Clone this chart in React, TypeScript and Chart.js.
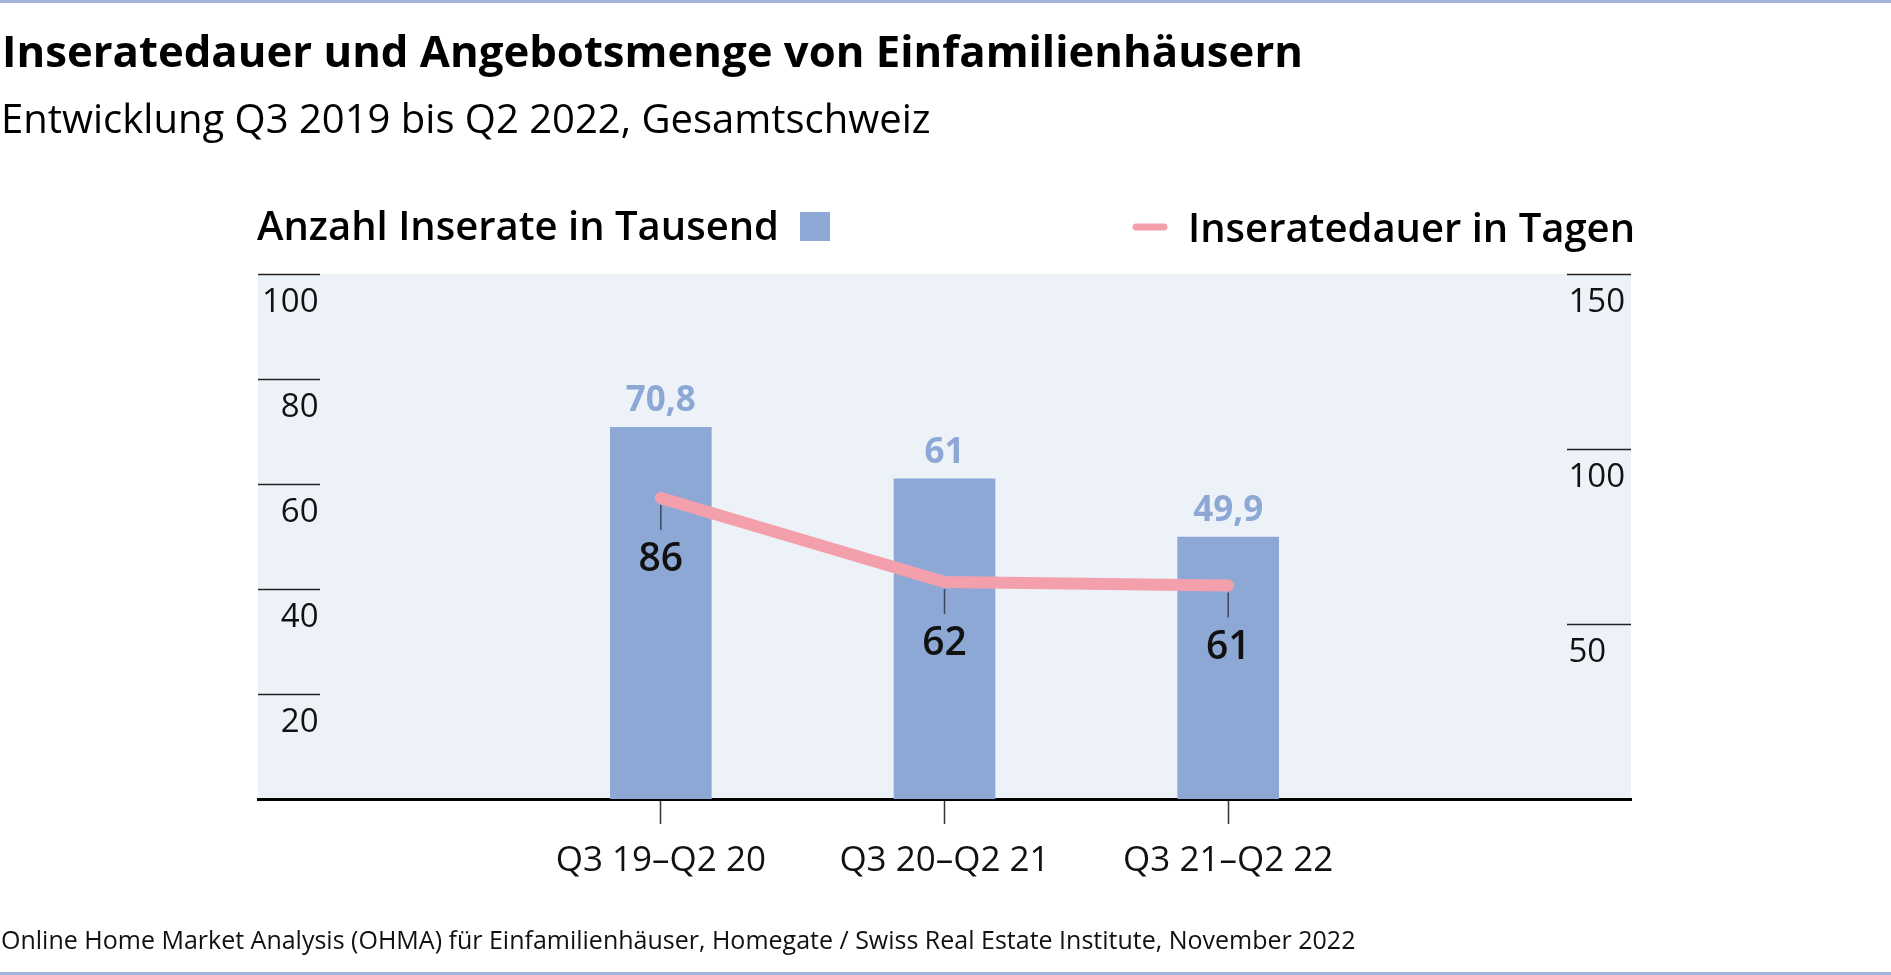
import React, { useEffect, useRef } from 'react';
import { Chart, registerables } from 'chart.js';

Chart.register(...registerables);

const categories = ['Q3 19–Q2 20', 'Q3 20–Q2 21', 'Q3 21–Q2 22'];
const listings = [70.8, 61, 49.9]; // Anzahl Inserate in Tausend
const durationDays = [86, 62, 61]; // Inseratedauer in Tagen
const leftTicks = [20, 40, 60, 80, 100];
const rightTicks = [50, 100, 150];

const FONT = "'Open Sans', 'Noto Sans', sans-serif";
const BAR_BLUE = '#8ea8d6';
const PINK = '#f3a0ac';
const PLOT_BG = '#edf2f9';
const FRAME = '#a1b4da';

const fmt = (v: number) => String(v).replace('.', ',');

const decorPlugin = {
    id: 'decor',
    beforeDraw(chart: any) {
        const { ctx, chartArea } = chart;
        ctx.save();
        ctx.fillStyle = PLOT_BG;
        ctx.fillRect(chartArea.left, chartArea.top, chartArea.right - chartArea.left, chartArea.bottom - chartArea.top);
        ctx.restore();
    },
    afterDatasetsDraw(chart: any) {
        const { ctx, chartArea } = chart;
        ctx.save();
        // short tick lines of both y axes
        ctx.strokeStyle = '#222';
        ctx.lineWidth = 1.5;
        const y = chart.scales.y;
        leftTicks.forEach((t) => {
            const py = Math.round(y.getPixelForValue(t)) + 0.5;
            ctx.beginPath();
            ctx.moveTo(chartArea.left, py);
            ctx.lineTo(chartArea.left + 62, py);
            ctx.stroke();
        });
        const y2 = chart.scales.y2;
        rightTicks.forEach((t) => {
            const py = Math.round(y2.getPixelForValue(t)) + 0.5;
            ctx.beginPath();
            ctx.moveTo(chartArea.right - 64, py);
            ctx.lineTo(chartArea.right, py);
            ctx.stroke();
        });

        // bar value labels
        const barMeta = chart.getDatasetMeta(0);
        ctx.fillStyle = BAR_BLUE;
        ctx.font = `bold 35px ${FONT}`;
        ctx.textAlign = 'center';
        ctx.textBaseline = 'alphabetic';
        barMeta.data.forEach((bar: any, i: number) => {
            ctx.fillText(fmt(listings[i]), bar.x, bar.y - 16);
        });

        // line value labels with leader
        const lineMeta = chart.getDatasetMeta(1);
        ctx.font = `600 39px ${FONT}`;
        lineMeta.data.forEach((pt: any, i: number) => {
            ctx.strokeStyle = '#3b475c';
            ctx.lineWidth = 1.5;
            ctx.beginPath();
            ctx.moveTo(pt.x, pt.y + 7);
            ctx.lineTo(pt.x, pt.y + 32);
            ctx.stroke();
            ctx.fillStyle = '#111';
            ctx.fillText(fmt(durationDays[i]), pt.x, pt.y + 73);
        });
        ctx.restore();
    },
    afterDraw(chart: any) {
        const { ctx, width, height } = chart;
        ctx.save();
        ctx.fillStyle = FRAME;
        ctx.fillRect(0, 0, width, 3);
        ctx.fillRect(0, height - 3, width, 3);

        ctx.textBaseline = 'alphabetic';
        ctx.textAlign = 'left';
        ctx.fillStyle = '#000';
        ctx.font = `bold 43.7px ${FONT}`;
        ctx.fillText('Inseratedauer und Angebotsmenge von Einfamilienhäusern', 2, 67);
        ctx.font = `40px ${FONT}`;
        ctx.fillText('Entwicklung Q3 2019 bis Q2 2022, Gesamtschweiz', 1, 133);

        // legend
        ctx.font = `600 40px ${FONT}`;
        ctx.fillText('Anzahl Inserate in Tausend', 257, 240);
        ctx.fillStyle = BAR_BLUE;
        ctx.fillRect(800, 212, 30, 29);
        ctx.strokeStyle = PINK;
        ctx.lineWidth = 7;
        ctx.lineCap = 'round';
        ctx.beginPath();
        ctx.moveTo(1136, 227);
        ctx.lineTo(1164, 227);
        ctx.stroke();
        ctx.fillStyle = '#000';
        ctx.fillText('Inseratedauer in Tagen', 1188, 242);

        // source
        ctx.font = `25px ${FONT}`;
        ctx.fillStyle = '#111';
        ctx.fillText('Online Home Market Analysis (OHMA) für Einfamilienhäuser, Homegate / Swiss Real Estate Institute, November 2022', 1, 949);
        ctx.restore();
    },
};

const App: React.FC = () => {
    const canvasRef = useRef<HTMLCanvasElement>(null);
    const chartInstance = useRef<Chart | null>(null);

    useEffect(() => {
        if (!canvasRef.current) return;
        const ctx = canvasRef.current.getContext('2d');
        if (!ctx) return;
        if (chartInstance.current) chartInstance.current.destroy();

        chartInstance.current = new Chart(ctx, {
            type: 'bar',
            data: {
                datasets: [
                    {
                        type: 'bar',
                        label: 'Anzahl Inserate in Tausend',
                        data: categories.map((_, i) => ({ x: i + 1, y: listings[i] })),
                        backgroundColor: BAR_BLUE,
                        barThickness: 101,
                        yAxisID: 'y',
                        order: 2,
                    },
                    {
                        type: 'line',
                        label: 'Inseratedauer in Tagen',
                        data: categories.map((_, i) => ({ x: i + 1, y: durationDays[i] })),
                        borderColor: PINK,
                        borderWidth: 12,
                        borderCapStyle: 'round',
                        borderJoinStyle: 'round',
                        pointRadius: 0,
                        tension: 0,
                        yAxisID: 'y2',
                        order: 1,
                    },
                ] as any,
            },
            plugins: [decorPlugin],
            options: {
                animation: false,
                responsive: true,
                maintainAspectRatio: false,
                layout: { padding: { left: 250, right: 260, top: 274, bottom: 77 } },
                plugins: { legend: { display: false }, tooltip: { enabled: false }, title: { display: false } },
                scales: {
                    x: {
                        type: 'linear',
                        min: -0.42,
                        max: 4.42,
                        bounds: 'data',
                        offset: false,
                        afterBuildTicks: (axis: any) => {
                            axis.ticks = categories.map((_, i) => ({ value: i + 1 }));
                        },
                        grid: { offset: false, drawOnChartArea: false, drawTicks: true, tickLength: 25, tickColor: '#333', tickWidth: 1.5 },
                        border: { display: true, color: '#000', width: 3 },
                        ticks: {
                            autoSkip: false,
                            maxRotation: 0,
                            padding: 16,
                            color: '#111',
                            font: { family: FONT, size: 35 },
                            callback: (v: any) => categories[Number(v) - 1] ?? '',
                        },
                    },
                    y: {
                        position: 'left',
                        min: 0,
                        max: 100,
                        grid: { display: false, drawTicks: false },
                        border: { display: false },
                        ticks: {
                            stepSize: 20,
                            mirror: true,
                            crossAlign: 'far',
                            padding: 4,
                            labelOffset: 29,
                            color: '#111',
                            font: { family: FONT, size: 33 },
                            callback: (v: any) => (leftTicks.includes(Number(v)) ? String(v) : ''),
                        },
                    },
                    y2: {
                        position: 'right',
                        min: 0,
                        max: 150,
                        grid: { display: false, drawTicks: false },
                        border: { display: false },
                        ticks: {
                            stepSize: 50,
                            mirror: true,
                            crossAlign: 'far',
                            padding: -6,
                            labelOffset: 29,
                            color: '#111',
                            font: { family: FONT, size: 33 },
                            callback: (v: any) => (rightTicks.includes(Number(v)) ? String(v) : ''),
                        },
                    },
                },
            } as any,
        });

        return () => {
            if (chartInstance.current) {
                chartInstance.current.destroy();
                chartInstance.current = null;
            }
        };
    }, []);

    return (
        <div style={{ position: 'absolute', left: 0, top: 0, width: 1891, height: 975, background: '#fff' }}>
            <canvas ref={canvasRef}></canvas>
        </div>
    );
};

export default App;
